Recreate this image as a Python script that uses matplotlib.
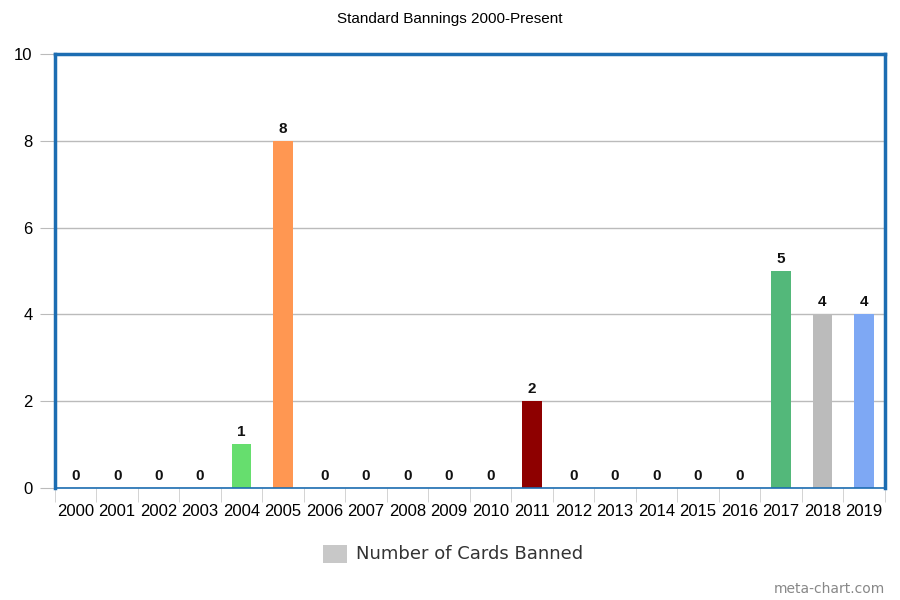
import matplotlib
matplotlib.use("Agg")
import matplotlib.pyplot as plt
import numpy as np

plt.rcParams["font.family"] = ["Liberation Sans", "DejaVu Sans"]

years = [str(y) for y in range(2000, 2020)]
banned = [0, 0, 0, 0, 1, 8, 0, 0, 0, 0, 0, 2, 0, 0, 0, 0, 0, 5, 4, 4]
bar_colors = {"2004": "#66de6e", "2005": "#ff9752", "2011": "#8e0000",
              "2017": "#53b87a", "2018": "#bbbbbb", "2019": "#7ea8f4"}
BLUE = "#1c6db2"

fig = plt.figure(figsize=(9, 6), dpi=100)
ax = fig.add_axes([0.061, 0.187, 0.922, 0.723])
x = np.arange(len(years))
cols = [bar_colors.get(y, "#cccccc") for y in years]
ax.bar(x, banned, width=0.47, color=cols, zorder=2)
for xi, v in zip(x, banned):
    ax.text(xi, v + 0.12, str(v), ha="center", va="bottom", fontsize=11,
            fontweight="bold", color="#111111", zorder=3,
            bbox=dict(facecolor="white", edgecolor="none", pad=1.5))

ax.set_xlim(-0.5, len(years) - 0.5)
ax.set_ylim(0, 10)
ax.set_yticks(range(0, 11, 2))
ax.grid(axis="y", color="#bbbbbb", linewidth=1, zorder=0)
ax.tick_params(axis="y", length=11, color="#bbbbbb", labelsize=12, pad=5)
ax.set_xticks(x)
ax.set_xticklabels(years, fontsize=12)
ax.tick_params(axis="x", length=0, pad=12)
ax.set_xticks(np.arange(-0.5, len(years)), minor=True)
ax.tick_params(axis="x", which="minor", length=10, color="#cccccc")

for s in ["left", "top", "right"]:
    ax.spines[s].set_color(BLUE)
    ax.spines[s].set_linewidth(2.5)
ax.spines["bottom"].set_color(BLUE)
ax.spines["bottom"].set_linewidth(1.2)

fig.text(0.5, 0.968, "Standard Bannings 2000-Present", ha="center", va="center", fontsize=11)
fig.patches.append(plt.Rectangle((0.359, 0.062), 0.027, 0.03, transform=fig.transFigure,
                                 facecolor="#c8c8c8", edgecolor="none"))
fig.text(0.395, 0.077, "Number of Cards Banned", ha="left", va="center", fontsize=13,
         color="#333333", family="DejaVu Sans")
fig.text(0.983, 0.018, "meta-chart.com", ha="right", va="center", fontsize=10,
         color="#888888", family="DejaVu Sans")

fig.savefig("out.png", dpi=100)
